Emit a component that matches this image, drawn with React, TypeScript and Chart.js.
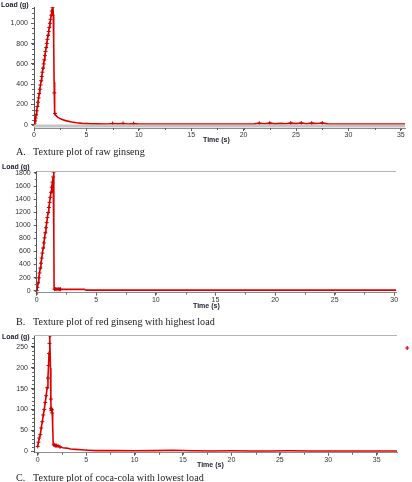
import React, { useEffect, useRef } from 'react';
import { Chart, registerables } from 'chart.js';

Chart.register(...registerables);

// ---------- A: raw ginseng ----------
const timeA = [
  0, 0.05, 0.1, 0.15, 0.2, 0.26, 0.32, 0.38, 0.44, 0.5, 0.56, 0.62, 0.68, 0.74, 0.8, 0.86,
  0.92, 0.98, 1.04, 1.1, 1.16, 1.22, 1.28, 1.34, 1.4, 1.46, 1.52, 1.58, 1.64, 1.7, 1.76,
  1.8, 1.84, 1.88, 1.92, 1.94, 1.97, 2.0, 2.1, 2.25, 2.48, 2.8, 3.12, 3.6, 4.07, 4.6, 5.2,
  6, 7, 7.5, 8, 8.5, 9, 9.5, 10, 12, 14, 16, 18, 20, 21, 21.5, 22, 22.5, 23, 23.5, 24,
  24.5, 25, 25.5, 26, 26.5, 27, 27.5, 28, 30, 32, 34, 35.4,
];
const loadA = [
  0, 15, 38, 66, 98, 138, 180, 222, 265, 308, 350, 392, 434, 476, 518, 558,
  600, 640, 681, 722, 762, 802, 842, 882, 920, 960, 1000, 1040, 1080, 1120, 1158,
  1165, 1090, 820, 420, 314, 180, 110, 90, 75, 61, 48, 38, 27, 19, 14, 11,
  9, 8, 12, 9, 13, 8, 11, 8, 8, 7, 8, 7, 8, 9, 15, 10, 16, 9, 14, 10,
  16, 11, 17, 10, 16, 12, 17, 9, 8, 8, 7, 7,
];
const markedA = [1.94, 2.0, 7.5, 8.5, 9.5, 21.5, 22.5, 24.5, 25.5, 26.5, 27.5];
const yTicksA = [0, 200, 400, 600, 800, 1000];
const xTicksA = [0, 5, 10, 15, 20, 25, 30, 35];

// ---------- B: red ginseng, highest load ----------
const timeB = [
  0, 0.06, 0.12, 0.18, 0.24, 0.3, 0.36, 0.42, 0.48, 0.54, 0.6, 0.66, 0.72, 0.78, 0.84, 0.9,
  0.96, 1.02, 1.08, 1.14, 1.2, 1.26, 1.32, 1.38, 1.42, 1.44, 1.45, 1.46,
  1.5, 1.6, 1.7, 1.8, 1.9, 2.0, 2.2, 2.5, 3.0, 3.5, 4.0, 4.1, 4.2, 6, 10, 15, 20, 25, 30.2,
];
const loadB = [
  0, 50, 120, 195, 270, 345, 420, 498, 575, 652, 730, 808, 885, 962, 1040, 1118,
  1195, 1272, 1350, 1428, 1505, 1582, 1660, 1738, 1815, 1880, 900, 25,
  22, 25, 20, 24, 20, 22, 20, 21, 20, 20, 20, 10, 8, 8, 8, 8, 8, 8, 8,
];
const markedB = [1.5, 1.6, 1.7, 1.8, 1.9, 2.0];
const yTicksB = [0, 200, 400, 600, 800, 1000, 1200, 1400, 1600, 1800];
const xTicksB = [0, 5, 10, 15, 20, 25, 30];

// ---------- C: coca-cola, lowest load ----------
const timeC = [
  0, 0.08, 0.17, 0.27, 0.37, 0.48, 0.58, 0.68, 0.78, 0.88, 0.98, 1.06, 1.12, 1.17, 1.22, 1.27,
  1.32, 1.36, 1.38, 1.41, 1.45, 1.5, 1.55, 1.6,
  1.66, 1.75, 1.85, 1.95, 2.1, 2.3, 2.6, 3.0, 3.4, 3.9, 4.5, 5.2, 6, 8, 10, 12, 14, 16,
  18, 20, 22, 24, 26, 28, 30, 32, 34, 36, 37.1,
];
const loadC = [
  12, 22, 32, 40, 56, 71, 87, 100, 117, 133, 152, 175, 205, 234, 258, 276,
  200, 125, 103, 98, 100, 92, 60, 18,
  16, 15, 14, 14, 13, 11, 9, 8, 6, 5, 4, 3, 2, 2, 1.5, 2, 3, 1.5,
  1, 1.5, 1, 1, 1.5, 1, 1, 1, 1, 1, 1,
];
const markedC = [1.36, 1.38, 1.41, 1.45, 1.5, 1.66, 1.75, 1.85, 1.95, 2.1, 2.3];
// a lone reading logged past the end of the time axis
const strayC = [{ x: 38.15, y: 247 }];
const yTicksC = [0, 50, 100, 150, 200, 250];
const xTicksC = [0, 5, 10, 15, 20, 25, 30, 35];

const RED = '#e00000';
const TICK_FONT = { family: 'Liberation Sans, Arial, sans-serif', size: 7 };

function drawCross(ctx: CanvasRenderingContext2D, x: number, y: number, r: number) {
  ctx.moveTo(x - r, y);
  ctx.lineTo(x + r, y);
  ctx.moveTo(x, y - r);
  ctx.lineTo(x, y + r);
}

// Short ticks between the labelled ones, an optional frame line on top,
// and any readings that fall outside the plotted range.
const plotExtras = {
  id: 'plotExtras',
  afterDraw(chart: any, _args: any, opts: any) {
    const { ctx, chartArea } = chart;
    const xs = chart.scales.x;
    const ys = chart.scales.y;
    ctx.save();
    ctx.lineWidth = 1;
    ctx.strokeStyle = '#666';
    ctx.beginPath();
    const y0 = Math.ceil(ys.min / opts.y);
    const y1 = Math.floor(ys.max / opts.y);
    for (let i = y0; i <= y1; i++) {
      const p = Math.round(ys.getPixelForValue(i * opts.y)) + 0.5;
      ctx.moveTo(chartArea.left - 2, p);
      ctx.lineTo(chartArea.left, p);
    }
    const x0 = Math.ceil(xs.min / opts.x);
    const x1 = Math.floor(xs.max / opts.x);
    for (let i = x0; i <= x1; i++) {
      const p = Math.round(xs.getPixelForValue(i * opts.x)) + 0.5;
      ctx.moveTo(p, chartArea.bottom);
      ctx.lineTo(p, chartArea.bottom + 2);
    }
    ctx.stroke();
    if (opts.topBorder) {
      ctx.strokeStyle = '#b4b4b4';
      ctx.beginPath();
      ctx.moveTo(chartArea.left, chartArea.top + 0.5);
      ctx.lineTo(chartArea.right, chartArea.top + 0.5);
      ctx.stroke();
    }
    if (opts.stray && opts.stray.length) {
      ctx.strokeStyle = RED;
      ctx.lineWidth = 1.2;
      ctx.beginPath();
      for (const p of opts.stray) {
        drawCross(ctx, xs.getPixelForValue(p.x), ys.getPixelForValue(p.y), 2);
      }
      ctx.stroke();
    }
    ctx.restore();
  },
};

type Spec = {
  times: number[];
  loads: number[];
  crossUntil: number;
  marked: number[];
  xMin: number; xMax: number; yMin: number; yMax: number;
  xTicks: number[]; yTicks: number[];
  xMinor: number; yMinor: number;
  comma: boolean;
  band: boolean;
  topBorder: boolean;
  stray: { x: number; y: number }[];
  yWidth: number; xHeight: number; padTop: number; padRight: number;
};

function TexturePlot({ spec, top, height }: { spec: Spec; top: number; height: number }) {
  const ref = useRef<HTMLCanvasElement | null>(null);

  useEffect(() => {
    if (!ref.current) return;
    const pts = spec.times.map((x, i) => ({ x, y: spec.loads[i] }));
    const marks = new Set(spec.marked);
    const datasets: any[] = [];
    if (spec.band) {
      datasets.push({
        data: [{ x: 0, y: -13 }, { x: spec.xMax, y: -13 }],
        borderColor: '#c4c4c4',
        borderWidth: 3,
        pointRadius: 0,
      });
    }
    datasets.push({
      data: pts,
      borderColor: RED,
      backgroundColor: RED,
      borderWidth: 1.6,
      pointStyle: 'cross',
      pointBorderColor: '#c80000',
      pointBorderWidth: 1,
      pointRadius: (c: any) => {
        const t = spec.times[c.dataIndex];
        return t <= spec.crossUntil || marks.has(t) ? 2 : 0;
      },
      tension: 0,
    });
    const fmt = (v: number) => (spec.comma ? v.toLocaleString('en-US') : String(v));
    const chart = new Chart(ref.current, {
      type: 'line',
      data: { datasets },
      options: {
        animation: false,
        responsive: false,
        devicePixelRatio: 1,
        layout: { padding: { top: spec.padTop, right: spec.padRight, left: 0, bottom: 0 } },
        plugins: {
          legend: { display: false },
          tooltip: { enabled: false },
          plotExtras: {
            x: spec.xMinor,
            y: spec.yMinor,
            topBorder: spec.topBorder,
            stray: spec.stray,
          },
        } as any,
        scales: {
          x: {
            type: 'linear',
            min: spec.xMin,
            max: spec.xMax,
            afterBuildTicks: (s: any) => { s.ticks = spec.xTicks.map((value) => ({ value })); },
            afterFit: (s: any) => { s.height = spec.xHeight; },
            ticks: {
              font: TICK_FONT,
              color: '#333',
              padding: 0,
              maxRotation: 0,
              autoSkip: false,
              callback: (v: any) => String(v),
            },
            grid: { drawOnChartArea: false, drawTicks: true, tickLength: 3, color: '#555' },
            border: { color: '#8c8c8c', width: 1 },
          },
          y: {
            type: 'linear',
            min: spec.yMin,
            max: spec.yMax,
            afterBuildTicks: (s: any) => { s.ticks = spec.yTicks.map((value) => ({ value })); },
            afterFit: (s: any) => { s.width = spec.yWidth; },
            ticks: {
              font: TICK_FONT,
              color: '#333',
              padding: 3,
              autoSkip: false,
              callback: (v: any) => fmt(Number(v)),
            },
            grid: { drawOnChartArea: false, drawTicks: true, tickLength: 3, color: '#555' },
            border: { color: '#555', width: 1 },
          },
        },
      },
      plugins: [plotExtras as any],
    });
    return () => chart.destroy();
  }, [spec]);

  return (
    <canvas
      ref={ref}
      width={412}
      height={height}
      style={{ position: 'absolute', left: 0, top, width: 412, height }}
    />
  );
}

const specA: Spec = {
  times: timeA, loads: loadA, crossUntil: 1.8, marked: markedA,
  xMin: 0, xMax: 35.4, yMin: -32, yMax: 1159,
  xTicks: xTicksA, yTicks: yTicksA, xMinor: 2.5, yMinor: 50,
  comma: true, band: true, topBorder: false, stray: [],
  yWidth: 34, xHeight: 12, padTop: 3, padRight: 7,
};
const specB: Spec = {
  times: timeB, loads: loadB, crossUntil: 1.42, marked: markedB,
  xMin: 0, xMax: 30.15, yMin: -30, yMax: 1830,
  xTicks: xTicksB, yTicks: yTicksB, xMinor: 2.5, yMinor: 100,
  comma: false, band: false, topBorder: true, stray: [],
  yWidth: 36.7, xHeight: 17.4, padTop: 11, padRight: 16,
};
const specC: Spec = {
  times: timeC, loads: loadC, crossUntil: 1.27, marked: markedC,
  xMin: -0.38, xMax: 37.1, yMin: -3, yMax: 278,
  xTicks: xTicksC, yTicks: yTicksC, xMinor: 2.5, yMinor: 10,
  comma: false, band: false, topBorder: true, stray: strayC,
  yWidth: 34, xHeight: 12.3, padTop: 10, padRight: 15,
};

const axisTitle: React.CSSProperties = {
  position: 'absolute',
  font: 'bold 7px "Liberation Sans", Arial, sans-serif',
  color: '#1c1c2c',
  lineHeight: '7px',
  whiteSpace: 'nowrap',
};
const caption: React.CSSProperties = {
  position: 'absolute',
  font: '11px "Liberation Serif", "Times New Roman", serif',
  color: '#1a1a1a',
  lineHeight: '12px',
  whiteSpace: 'nowrap',
  transform: 'scaleX(0.92)',
  transformOrigin: 'left center',
};

function Caption({ letter, text, y }: { letter: string; text: string; y: number }) {
  return (
    <>
      <span style={{ ...caption, left: 16, top: y - 6 }}>{letter}</span>
      <span style={{ ...caption, left: 33, top: y - 6 }}>{text}</span>
    </>
  );
}

export default function App() {
  return (
    <div style={{ position: 'absolute', left: 0, top: 0, width: 412, height: 482, background: '#fff', overflow: 'hidden' }}>
      <TexturePlot spec={specA} top={0} height={140} />
      <TexturePlot spec={specB} top={160} height={150} />
      <TexturePlot spec={specC} top={325} height={140} />

      <span style={{ ...axisTitle, left: 1, top: 1 }}>Load (g)</span>
      <span style={{ ...axisTitle, left: 203, top: 136 }}>Time (s)</span>
      <Caption letter="A." text="Texture plot of raw ginseng" y={151} />

      <span style={{ ...axisTitle, left: 2, top: 163 }}>Load (g)</span>
      <span style={{ ...axisTitle, left: 193, top: 302 }}>Time (s)</span>
      <Caption letter="B." text="Texture plot of red ginseng with highest load" y={321} />

      <span style={{ ...axisTitle, left: 2, top: 333 }}>Load (g)</span>
      <span style={{ ...axisTitle, left: 197, top: 461 }}>Time (s)</span>
      <Caption letter="C." text="Texture plot of coca-cola with lowest load" y={477} />
    </div>
  );
}
